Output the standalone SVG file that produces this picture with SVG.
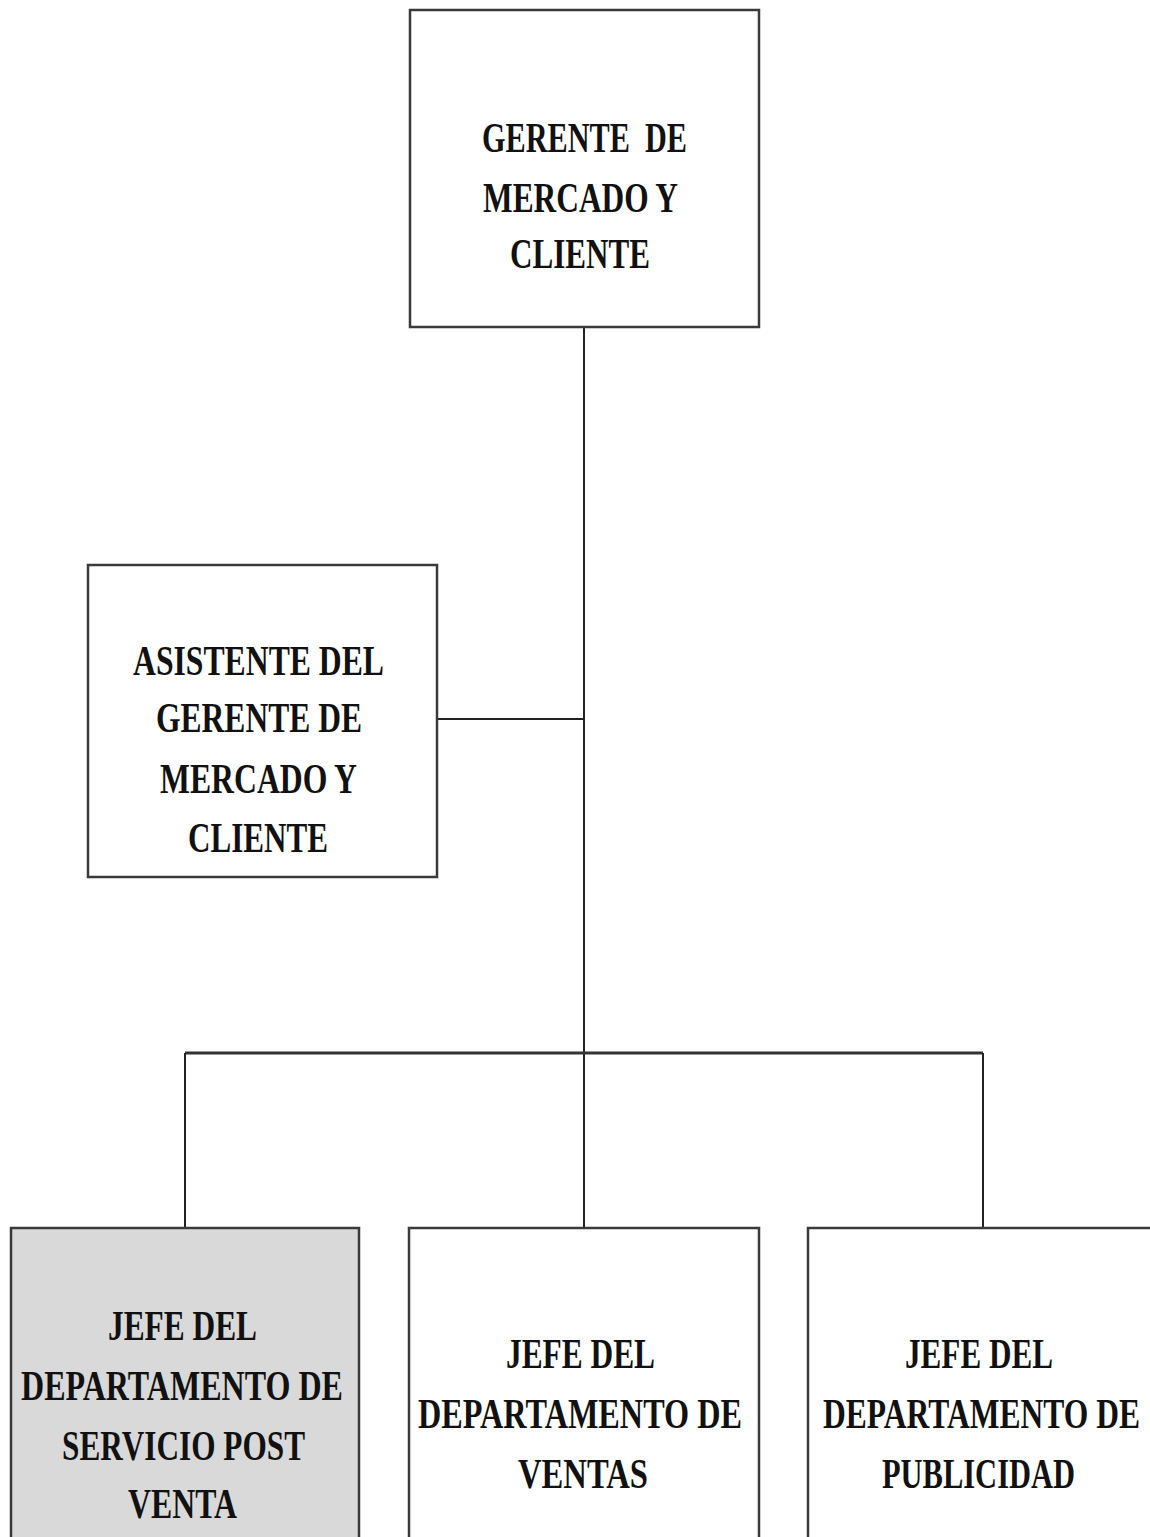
<svg xmlns="http://www.w3.org/2000/svg" width="1150" height="1537" viewBox="0 0 1150 1537">
  <style>
    .box { fill: #ffffff; stroke: #3a3a3a; stroke-width: 2.5; }
    .box.shaded { fill: #d9d9d9; }
    .lbl { font-family: "Liberation Serif", "Times New Roman", serif; font-weight: bold; font-size: 42px; fill: #111111; lengthAdjust: spacingAndGlyphs; white-space: pre; }
    .wire { stroke: #222222; stroke-width: 2; fill: none; }
    .bar { stroke: #333333; stroke-width: 3; fill: none; }
  </style>
  <rect width="1150" height="1537" fill="#ffffff"/>

  <!-- reporting lines -->
  <g id="connectors">
    <line class="wire" x1="584" y1="327" x2="584" y2="1228"/>
    <line class="wire" x1="437" y1="719" x2="584" y2="719"/>
    <line class="bar" x1="185" y1="1053" x2="983" y2="1053"/>
    <line class="wire" x1="185" y1="1053" x2="185" y2="1228"/>
    <line class="wire" x1="983" y1="1053" x2="983" y2="1228"/>
  </g>

  <g id="gerente">
    <rect class="box" x="410" y="10" width="349" height="317"/>
    <text class="lbl" x="482" y="152" textLength="205" lengthAdjust="spacingAndGlyphs">GERENTE  DE</text>
    <text class="lbl" x="483" y="212" textLength="195" lengthAdjust="spacingAndGlyphs">MERCADO Y</text>
    <text class="lbl" x="510" y="268" textLength="140" lengthAdjust="spacingAndGlyphs">CLIENTE</text>
  </g>

  <g id="asistente">
    <rect class="box" x="88" y="565" width="349" height="312"/>
    <text class="lbl" x="133" y="675" textLength="251" lengthAdjust="spacingAndGlyphs">ASISTENTE DEL</text>
    <text class="lbl" x="156" y="732" textLength="206" lengthAdjust="spacingAndGlyphs">GERENTE DE</text>
    <text class="lbl" x="160" y="793" textLength="197" lengthAdjust="spacingAndGlyphs">MERCADO Y</text>
    <text class="lbl" x="188" y="852" textLength="140" lengthAdjust="spacingAndGlyphs">CLIENTE</text>
  </g>

  <g id="postventa">
    <rect class="box shaded" x="11" y="1228" width="348" height="330"/>
    <text class="lbl" x="108" y="1340" textLength="149" lengthAdjust="spacingAndGlyphs">JEFE DEL</text>
    <text class="lbl" x="21" y="1400" textLength="322" lengthAdjust="spacingAndGlyphs">DEPARTAMENTO DE</text>
    <text class="lbl" x="62" y="1460" textLength="243" lengthAdjust="spacingAndGlyphs">SERVICIO POST</text>
    <text class="lbl" x="128" y="1518" textLength="109" lengthAdjust="spacingAndGlyphs">VENTA</text>
  </g>

  <g id="ventas">
    <rect class="box" x="409" y="1228" width="350" height="330"/>
    <text class="lbl" x="506" y="1368" textLength="149" lengthAdjust="spacingAndGlyphs">JEFE DEL</text>
    <text class="lbl" x="418" y="1428" textLength="324" lengthAdjust="spacingAndGlyphs">DEPARTAMENTO DE</text>
    <text class="lbl" x="518" y="1488" textLength="130" lengthAdjust="spacingAndGlyphs">VENTAS</text>
  </g>

  <g id="publicidad">
    <rect class="box" x="808" y="1228" width="350" height="330"/>
    <text class="lbl" x="905" y="1368" textLength="148" lengthAdjust="spacingAndGlyphs">JEFE DEL</text>
    <text class="lbl" x="823" y="1428" textLength="317" lengthAdjust="spacingAndGlyphs">DEPARTAMENTO DE</text>
    <text class="lbl" x="882" y="1488" textLength="193" lengthAdjust="spacingAndGlyphs">PUBLICIDAD</text>
  </g>
</svg>
